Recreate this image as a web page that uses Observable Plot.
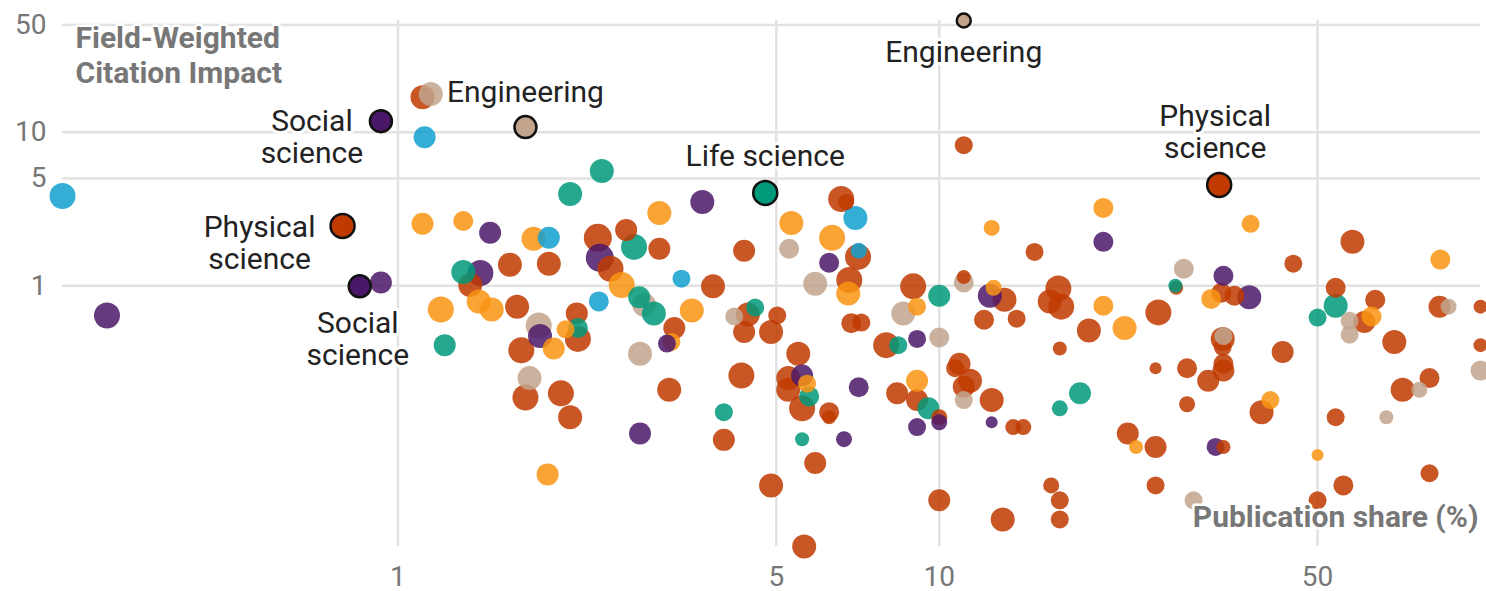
<!DOCTYPE html>
<html>
<head>
<meta charset="utf-8">
<script src="https://cdn.jsdelivr.net/npm/d3@7"></script>
<script src="https://cdn.jsdelivr.net/npm/@observablehq/plot@0.6"></script>
<style>
  html, body { margin: 0; padding: 0; background: #fff; }
  #chart svg { display: block; }
</style>
</head>
<body>
<div id="chart"></div>
<script>
// ---- Data: [publication share (%), FWCI, weight] ----
const fields = ["Physical science", "Engineering", "Health science", "Life science", "Social science", "Multidisciplinary"];
const fieldColors = ["#c03a00", "#c2a48d", "#f99412", "#00997a", "#4b1768", "#12a0cf"];

const physical = [
  [1.11, 16.9, 144], [1.36, 1.01, 144], [1.61, 1.37, 144], [1.90, 1.39, 144], [1.66, 0.73, 144],
  [1.69, 0.38, 169], [1.72, 0.187, 169], [2.0, 0.199, 169], [2.08, 0.139, 144], [2.14, 0.66, 121],
  [2.15, 0.45, 169], [2.34, 2.05, 196], [2.64, 2.31, 121], [2.47, 1.29, 169], [3.04, 1.74, 121],
  [3.24, 0.53, 121], [3.17, 0.21, 144], [3.82, 0.99, 144], [4.36, 1.69, 121], [4.43, 0.65, 144],
  [5.02, 0.64, 81], [4.36, 0.50, 121], [4.89, 0.50, 144], [4.31, 0.26, 169], [4.0, 0.099, 121],
  [5.49, 0.36, 144], [5.26, 0.25, 144], [5.26, 0.21, 144], [5.58, 0.159, 169], [6.26, 0.150, 100],
  [6.26, 0.139, 49], [5.9, 0.070, 121], [4.89, 0.050, 144], [5.63, 0.020, 144], [6.59, 3.67, 169],
  [6.73, 3.51, 64], [7.08, 1.54, 169], [6.82, 1.09, 169], [6.88, 0.57, 100], [7.18, 0.575, 81],
  [7.98, 0.41, 169], [8.36, 0.199, 121], [8.95, 0.99, 169], [9.1, 0.18, 121], [10.0, 0.139, 64],
  [10.0, 0.040, 121], [11.1, 8.23, 81], [11.1, 1.14, 49], [10.9, 0.31, 121], [11.4, 0.24, 144],
  [11.1, 0.22, 121], [12.1, 0.60, 100], [13.2, 0.81, 144], [12.5, 0.18, 144], [13.1, 0.030, 144],
  [13.9, 0.61, 81], [13.7, 0.12, 64], [14.3, 0.12, 64], [15.0, 1.66, 81], [16.6, 0.96, 169],
  [16.0, 0.79, 144], [16.8, 0.73, 169], [16.7, 0.39, 49], [18.9, 0.51, 144], [16.1, 0.050, 64],
  [16.7, 0.040, 81], [16.7, 0.030, 81], [25.4, 0.67, 169], [27.4, 0.97, 49], [22.3, 0.109, 121],
  [25.1, 0.089, 121], [25.1, 0.29, 36], [28.7, 0.29, 100], [28.7, 0.169, 64], [25.1, 0.050, 81],
  [33.2, 0.90, 100], [35.1, 0.86, 100], [33.4, 0.45, 144], [33.4, 0.40, 81], [33.5, 0.31, 100],
  [33.5, 0.28, 121], [31.4, 0.24, 121], [33.5, 0.089, 49], [39.4, 0.150, 144], [43.1, 0.37, 121],
  [45.1, 1.39, 81], [54.0, 0.97, 100], [58.0, 1.93, 144], [63.9, 0.81, 100], [61.0, 0.58, 121],
  [69.3, 0.43, 144], [84.0, 0.73, 121], [100, 0.73, 49], [100, 0.41, 49], [80.5, 0.25, 100],
  [71.8, 0.21, 144], [54.0, 0.139, 81], [80.5, 0.060, 81], [55.8, 0.050, 100], [50, 0.040, 81],
  [10.7, 0.29, 81]
];

const engineering = [
  [1.15, 17.7, 144], [1.82, 0.55, 169], [1.75, 0.25, 144], [2.85, 0.75, 144], [2.80, 0.36, 144],
  [4.18, 0.63, 81], [5.28, 1.74, 100], [5.9, 1.03, 144], [8.58, 0.66, 144], [10.0, 0.46, 100],
  [11.1, 1.05, 100], [11.1, 0.18, 81], [28.3, 1.29, 100], [33.5, 0.47, 81], [57.3, 0.59, 81],
  [57.3, 0.48, 81], [87.3, 0.73, 64], [100, 0.28, 100], [77.1, 0.21, 64], [67.0, 0.139, 49],
  [29.5, 0.040, 81]
];

const health = [
  [1.11, 2.53, 121], [1.32, 2.64, 100], [1.20, 0.70, 169], [1.41, 0.79, 144], [1.49, 0.70, 144],
  [1.78, 2.02, 144], [1.94, 0.39, 121], [2.04, 0.52, 81], [2.59, 1.01, 169], [3.04, 2.98, 144],
  [3.20, 0.43, 81], [3.49, 0.69, 144], [1.89, 0.059, 121], [5.33, 2.56, 144], [6.34, 2.05, 169],
  [6.79, 0.89, 144], [5.70, 0.23, 81], [9.1, 0.73, 81], [9.1, 0.24, 121], [12.5, 2.38, 64],
  [12.6, 0.97, 64], [20.1, 3.21, 100], [20.1, 0.74, 100], [22.0, 0.53, 144], [31.8, 0.82, 100],
  [37.6, 2.53, 81], [40.9, 0.18, 81], [62.9, 0.63, 100], [84.3, 1.48, 100], [23.1, 0.089, 49],
  [50, 0.079, 36]
];

const life = [
  [1.32, 1.23, 144], [1.22, 0.41, 121], [2.08, 3.96, 144], [2.38, 5.58, 144], [2.73, 1.79, 169],
  [2.15, 0.53, 100], [2.79, 0.84, 121], [2.97, 0.66, 144], [4.57, 0.72, 81], [4.0, 0.150, 81],
  [5.75, 0.19, 100], [5.58, 0.10, 49], [8.4, 0.41, 81], [10.0, 0.86, 121], [9.55, 0.159, 121],
  [18.2, 0.199, 121], [16.7, 0.159, 64], [27.3, 1.0, 49], [54.0, 0.74, 144], [50, 0.62, 81]
];

const social = [
  [0.29, 0.64, 169], [0.93, 1.05, 121], [1.48, 2.21, 121], [1.42, 1.21, 169], [1.83, 0.47, 144],
  [2.36, 1.52, 196], [3.65, 3.51, 144], [3.14, 0.42, 81], [2.80, 0.109, 121], [6.26, 1.41, 100],
  [5.58, 0.26, 121], [7.1, 0.218, 100], [6.67, 0.10, 64], [9.1, 0.45, 81], [9.1, 0.12, 81],
  [10.0, 0.129, 64], [12.4, 0.86, 144], [12.5, 0.129, 36], [20.1, 1.93, 100], [33.5, 1.16, 100],
  [37.4, 0.84, 144], [32.4, 0.089, 81]
];

const multidisciplinary = [
  [0.24, 3.84, 169], [1.12, 9.28, 121], [1.90, 2.05, 121], [2.35, 0.79, 100], [3.34, 1.11, 81],
  [7.0, 2.76, 144], [7.1, 1.69, 64]
];

// highlighted points: [field, share, FWCI, weight, label]
const highlights = [
  ["Social science", 0.93, 11.8, 121, "Social\nscience"],
  ["Social science", 0.85, 0.99, 121, "Social\nscience"],
  ["Physical science", 0.79, 2.45, 144, "Physical\nscience"],
  ["Physical science", 32.9, 4.53, 144, "Physical\nscience"],
  ["Engineering", 1.72, 10.8, 121, "Engineering"],
  ["Engineering", 11.1, 53.4, 49, "Engineering"],
  ["Life science", 4.77, 4.02, 144, "Life science"]
];

const xTicks = [1, 5, 10, 50];
const yTicks = [1, 5, 10, 50];
const yTitle = "Field-Weighted\nCitation Impact";
const xTitle = "Publication share (%)";

// ---- Build table ----
const seriesByField = {
  "Physical science": physical,
  "Engineering": engineering,
  "Health science": health,
  "Life science": life,
  "Social science": social,
  "Multidisciplinary": multidisciplinary
};
const drawOrder = ["Physical science", "Health science", "Engineering", "Life science", "Social science", "Multidisciplinary"];
const points = drawOrder.flatMap(f => seriesByField[f].map(([share, fwci, w]) => ({field: f, share, fwci, w})));
const hl = highlights.map(([field, share, fwci, w, label]) => ({field, share, fwci, w, label}));

// label offsets (layout only)
const labelOffsets = [[-69, 16], [-2, 52], [-83, 17], [-4, -53], [0, -35], [0, 31], [0, -37]];

const labelMarks = hl.map((d, i) => Plot.text([d], {
  x: "share", y: "fwci", text: "label",
  dx: labelOffsets[i][0], dy: labelOffsets[i][1],
  textAnchor: "middle", lineAnchor: "middle", lineHeight: 1.07,
  fontSize: 30, fill: "#222", stroke: "white", strokeWidth: 6, paintOrder: "stroke"
}));

const chart = Plot.plot({
  width: 1486,
  height: 591,
  marginLeft: 62,
  marginRight: 6,
  marginTop: 20,
  marginBottom: 45,
  style: {fontFamily: "Roboto, sans-serif", background: "#fff", overflow: "visible"},
  x: {type: "log", axis: null},
  y: {type: "log", axis: null},
  r: {type: "sqrt", domain: [0, 169], range: [0, 13]},
  color: {domain: fields, range: fieldColors},
  marks: [
    Plot.gridX(xTicks, {stroke: "#e2e2e2", strokeOpacity: 1, strokeWidth: 2.5}),
    Plot.gridY(yTicks, {stroke: "#e2e2e2", strokeOpacity: 1, strokeWidth: 2.5}),
    Plot.text(xTicks, {
      x: d => d, frameAnchor: "bottom", dy: 31, text: d => String(d),
      textAnchor: "middle", lineAnchor: "middle", fontSize: 28, fill: "#777"
    }),
    Plot.text(yTicks, {
      y: d => d, frameAnchor: "left", dx: -16, text: d => String(d),
      textAnchor: "end", lineAnchor: "middle", fontSize: 28, fill: "#777"
    }),
    Plot.dot(points, {x: "share", y: "fwci", r: "w", fill: "field", fillOpacity: 0.85}),
    Plot.dot(hl, {x: "share", y: "fwci", r: "w", fill: "field", fillOpacity: 1, stroke: "#111", strokeWidth: 2.5}),
    ...labelMarks,
    Plot.text([yTitle], {
      frameAnchor: "top-left", dx: 13, dy: 34, textAnchor: "start", lineAnchor: "middle", lineHeight: 1.17,
      fontSize: 30, fontWeight: "bold", fill: "#777", stroke: "white", strokeWidth: 5, paintOrder: "stroke"
    }),
    Plot.text([xTitle], {
      frameAnchor: "bottom-right", dx: -2, dy: -29, textAnchor: "end", lineAnchor: "middle",
      fontSize: 30, fontWeight: "bold", fill: "#777", stroke: "white", strokeWidth: 5, paintOrder: "stroke"
    })
  ]
});

document.getElementById("chart").appendChild(chart);
</script>
</body>
</html>
